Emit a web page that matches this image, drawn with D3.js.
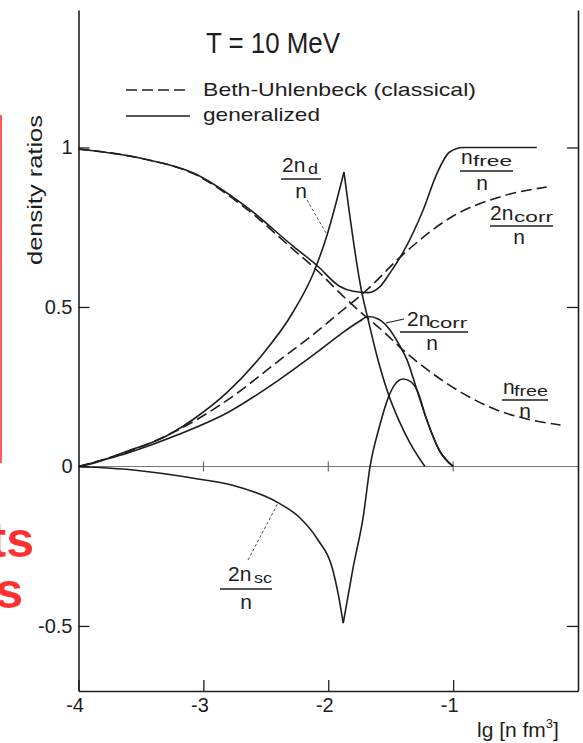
<!DOCTYPE html>
<html><head><meta charset="utf-8">
<script src="https://cdn.jsdelivr.net/npm/d3@7/dist/d3.min.js"></script>
<style>body{margin:0;background:#fff}svg{display:block;font-family:"Liberation Sans",Arial,sans-serif}</style>
</head><body>
<svg id="c" width="583" height="743"></svg>
<script>
// ---------- data (x = lg[n fm^3], value = density ratio) ----------
const xTicks = [-4, -3, -2, -1];
const xTickLabels = ["-4", "-3", "-2", "-1"];
const yTicks = [1, 0.5, 0, -0.5];
const yTickLabels = ["1", "0.5", "0", "-0.5"];
const rightTicks = [1, 0.5, -0.5];

const nFreeGeneralized = [[-4,0.995],[-3.5,0.966],[-3.08,0.92],[-2.65,0.812],[-2.28,0.69],[-2.09,0.63],[-1.91,0.565],[-1.8,0.549],[-1.68,0.545],[-1.59,0.562],[-1.5,0.61],[-1.4,0.672],[-1.24,0.804],[-1.13,0.918],[-1.03,0.985],[-0.92,1.0],[-0.33,1.0]];
const nFreeBU = [[-4,0.995],[-3.5,0.966],[-3.08,0.918],[-2.65,0.806],[-2.28,0.68],[-2.09,0.615],[-1.91,0.545],[-1.83,0.515],[-1.67,0.46],[-1.55,0.42],[-1.43,0.375],[-1.16,0.29],[-0.89,0.222],[-0.63,0.174],[-0.4,0.148],[-0.14,0.13]];
const corrBU = [[-4,0],[-3.6,0.047],[-3.2,0.115],[-2.8,0.21],[-2.4,0.33],[-2.1,0.42],[-1.9,0.485],[-1.7,0.55],[-1.4,0.665],[-1.0,0.785],[-0.6,0.848],[-0.25,0.876]];
const corrGeneralized = [[-4,0],[-3.6,0.043],[-3.2,0.1],[-2.8,0.17],[-2.4,0.27],[-2.1,0.355],[-1.9,0.415],[-1.75,0.455],[-1.68,0.47],[-1.6,0.462],[-1.51,0.43],[-1.43,0.38],[-1.37,0.335],[-1.29,0.24],[-1.21,0.145],[-1.11,0.05],[-1.0,0]];
const deuteron = [[-4,0],[-3.88,0.01],[-3.61,0.048],[-3.35,0.085],[-3.08,0.148],[-2.81,0.232],[-2.55,0.34],[-2.28,0.485],[-2.12,0.605],[-2.01,0.725],[-1.874,0.923],[-1.731,0.545],[-1.683,0.464],[-1.611,0.348],[-1.523,0.232],[-1.427,0.138],[-1.347,0.075],[-1.226,0]];
const scattering = [[-4,0],[-3.56,-0.011],[-3.03,-0.04],[-2.76,-0.06],[-2.41,-0.112],[-2.23,-0.16],[-2.09,-0.226],[-1.96,-0.33],[-1.92,-0.4],[-1.88,-0.491],[-1.8,-0.315],[-1.72,-0.158],[-1.665,0],[-1.59,0.125],[-1.52,0.215],[-1.47,0.255],[-1.4,0.274],[-1.34,0.266],[-1.29,0.24],[-1.21,0.145],[-1.11,0.05],[-1.0,0]];

const seriesList = [
  {data: nFreeGeneralized, dashed: false, sharp: false},
  {data: nFreeBU, dashed: true, sharp: false},
  {data: corrBU, dashed: true, sharp: false},
  {data: corrGeneralized, dashed: false, sharp: false},
  {data: deuteron, dashed: false, sharp: true},
  {data: scattering, dashed: false, sharp: true}
];

// ---------- chart ----------
const svg = d3.select("#c");
const ink = "#1e1e1e";
const x = d3.scaleLinear().domain([-4, 0]).range([78.5, 578]);
const yMin = -0.704, yMax = 1.431;
const y = d3.scaleLinear().domain([yMin, yMax]).range([691, 10]);

// red overlay artefacts from the source page
svg.append("line").attr("x1",1).attr("x2",1).attr("y1",115).attr("y2",463)
  .attr("stroke","#ff5a5a").attr("stroke-width",2);
svg.append("text").attr("x",34).attr("y",557).attr("text-anchor","end")
  .attr("font-size",50).attr("font-weight","bold").attr("fill","#ff3030").text("ts");
svg.append("text").attr("x",23).attr("y",608).attr("text-anchor","end")
  .attr("font-size",50).attr("font-weight","bold").attr("fill","#ff3030").text("s");

// zero line
svg.append("line").attr("x1",x(-4)).attr("x2",x(0)).attr("y1",y(0)).attr("y2",y(0))
  .attr("stroke","#777").attr("stroke-width",1.1);
svg.selectAll(".zt").data(xTicks.slice(1)).join("line")
  .attr("x1",d=>x(d)).attr("x2",d=>x(d)).attr("y1",y(0)-5).attr("y2",y(0)+5)
  .attr("stroke","#555").attr("stroke-width",1);

// bottom axis
const gx = svg.append("g").attr("transform",`translate(0,${y(yMin)})`)
  .call(d3.axisBottom(x).tickValues(xTicks).tickSizeInner(-11).tickSizeOuter(0)
    .tickFormat((d,i)=>xTickLabels[i]));
gx.selectAll("text").attr("text-anchor","end").attr("x",5).attr("y",21).attr("dy",0)
  .attr("font-size",20).attr("font-family","Liberation Sans").attr("fill",ink);

// left axis
const gy = svg.append("g").attr("transform",`translate(${x(-4)},0)`)
  .call(d3.axisLeft(y).tickValues(yTicks).tickSizeInner(-11).tickSizeOuter(0)
    .tickFormat((d,i)=>yTickLabels[i]));
gy.selectAll("text").attr("x",-6).attr("font-size",20).attr("font-family","Liberation Sans").attr("fill",ink);

// right axis
const gr = svg.append("g").attr("transform",`translate(${x(0)},0)`)
  .call(d3.axisRight(y).tickValues(rightTicks).tickSizeInner(-11).tickSizeOuter(0).tickFormat(""));

[gx,gy,gr].forEach(g=>{
  g.select(".domain").attr("stroke",ink).attr("stroke-width",1.6);
  g.selectAll(".tick line").attr("stroke",ink).attr("stroke-width",1.3);
});

// curves
const line = d3.line().x(d=>x(d[0])).y(d=>y(d[1])).curve(d3.curveMonotoneX);
seriesList.forEach(s=>{
  let parts = [s.data];
  if (s.sharp) {
    const k = d3.maxIndex(s.data, d=>Math.abs(d[1]));
    parts = [s.data.slice(0,k+1), s.data.slice(k)];
  }
  parts.forEach(p=>{
    svg.append("path").attr("d", line(p)).attr("fill","none")
      .attr("stroke", ink).attr("stroke-width", 1.6)
      .attr("stroke-dasharray", s.dashed ? "11,5" : null);
  });
});

// title & legend
svg.append("text").attr("x",206).attr("y",53).attr("font-size",29)
  .attr("textLength",134).attr("lengthAdjust","spacingAndGlyphs").attr("fill",ink).text("T = 10 MeV");
svg.append("line").attr("x1",126).attr("x2",190).attr("y1",90).attr("y2",90)
  .attr("stroke",ink).attr("stroke-width",1.5).attr("stroke-dasharray","11,5");
svg.append("line").attr("x1",126).attr("x2",190).attr("y1",116).attr("y2",116)
  .attr("stroke",ink).attr("stroke-width",1.5);
svg.append("text").attr("x",203).attr("y",96).attr("font-size",19)
  .attr("textLength",273).attr("lengthAdjust","spacingAndGlyphs").attr("fill",ink).text("Beth-Uhlenbeck (classical)");
svg.append("text").attr("x",203).attr("y",121).attr("font-size",19)
  .attr("textLength",117).attr("lengthAdjust","spacingAndGlyphs").attr("fill",ink).text("generalized");

// axis titles
svg.append("text").attr("transform","translate(42,190) rotate(-90)").attr("text-anchor","middle")
  .attr("font-size",21).attr("textLength",150).attr("lengthAdjust","spacingAndGlyphs")
  .attr("fill",ink).text("density ratios");
const xl = svg.append("text").attr("x",477).attr("y",737).attr("font-size",21).attr("fill",ink);
xl.append("tspan").text("lg [n fm");
xl.append("tspan").attr("font-size",13).attr("dy",-9).text("3");
xl.append("tspan").attr("dy",9).text("]");

// fraction labels
function frac(o){
  const g = svg.append("g").attr("fill",ink);
  g.append("text").attr("x",o.mx).attr("y",o.my).attr("font-size",21).text(o.main);
  g.append("text").attr("x",o.sx).attr("y",o.my+o.sdy).attr("font-size",14)
    .attr("textLength",o.sw).attr("lengthAdjust","spacingAndGlyphs").text(o.sub);
  g.append("line").attr("x1",o.b1).attr("x2",o.b2).attr("y1",o.by).attr("y2",o.by)
    .attr("stroke",ink).attr("stroke-width",1.5);
  g.append("text").attr("x",o.dx).attr("y",o.dy).attr("font-size",21).attr("text-anchor","middle").text("n");
}
frac({main:"2n",sub:"d",mx:282,my:172,sx:308,sdy:2,sw:10,b1:281,b2:321,by:179,dx:301,dy:198});
frac({main:"n",sub:"free",mx:461,my:164,sx:473,sdy:2,sw:39,b1:460,b2:513,by:171,dx:482,dy:190});
frac({main:"2n",sub:"corr",mx:490,my:220,sx:514,sdy:2,sw:39,b1:490,b2:553,by:226,dx:519,dy:244});
frac({main:"2n",sub:"corr",mx:407,my:326,sx:429,sdy:2,sw:38,b1:400,b2:468,by:332,dx:432,dy:350});
frac({main:"n",sub:"free",mx:503,my:394,sx:514,sdy:2,sw:34,b1:502,b2:548,by:400,dx:525,dy:418});
frac({main:"2n",sub:"sc",mx:228,my:581,sx:254,sdy:2,sw:18,b1:220,b2:272,by:589,dx:246,dy:609});

// leader lines
svg.append("line").attr("x1",307).attr("y1",200).attr("x2",326).attr("y2",233)
  .attr("stroke","#555").attr("stroke-width",1).attr("stroke-dasharray","3,2");
svg.append("line").attr("x1",386).attr("y1",323).attr("x2",404).attr("y2",319)
  .attr("stroke",ink).attr("stroke-width",1.2);
svg.append("line").attr("x1",248).attr("y1",560).attr("x2",278).attr("y2",503)
  .attr("stroke","#555").attr("stroke-width",1).attr("stroke-dasharray","3,2");
</script>
</body></html>
